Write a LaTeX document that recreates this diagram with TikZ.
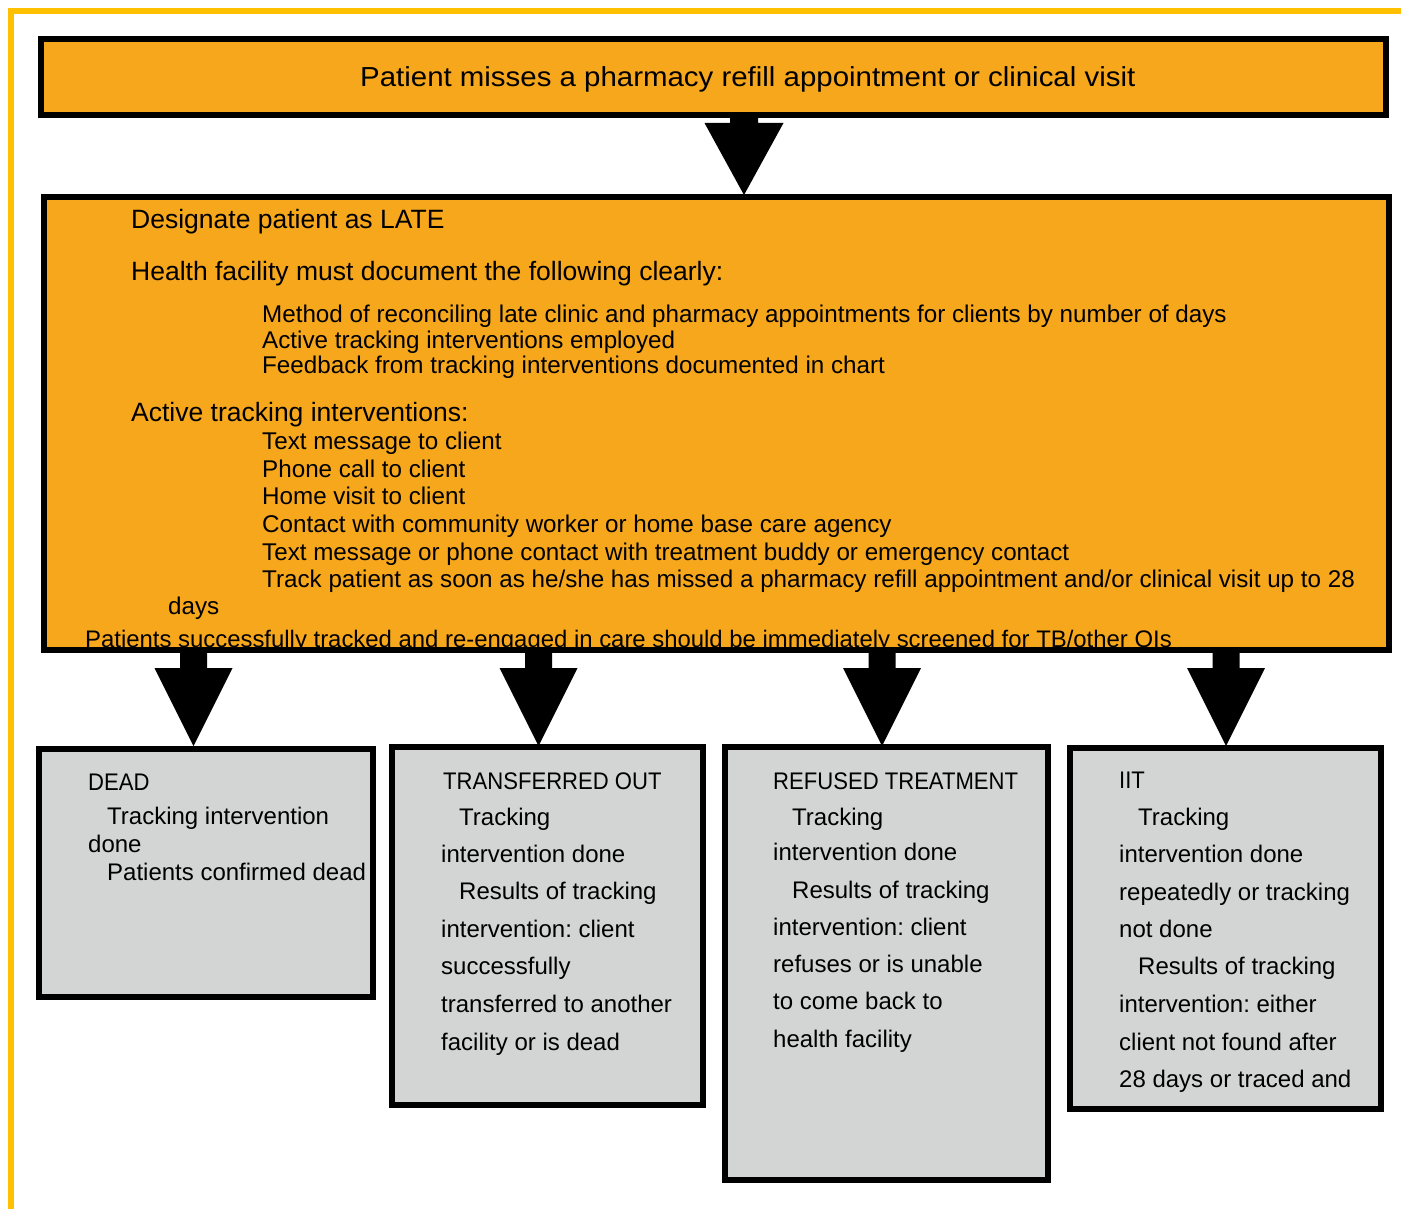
\documentclass[tikz,border=0pt]{standalone}
\usepackage{fontspec}
\setmainfont{Liberation Sans}
\newfontfamily\capsfont[FakeStretch=0.92]{Liberation Sans}
\newfontfamily\titlefont[FakeStretch=1.07]{Liberation Sans}
\frenchspacing
\definecolor{frameyellow}{HTML}{FFC000}
\definecolor{boxorange}{HTML}{F6A71C}
\definecolor{boxgray}{HTML}{D3D4D4}
\tikzset{
  obox/.style={fill=boxorange},
  gbox/.style={fill=boxgray},
  edge/.style={draw=black, line width=6pt},
  big/.style={anchor=base west, inner sep=0pt, font=\fontsize{26.5}{30}\selectfont},
  sub/.style={anchor=base west, inner sep=0pt, font=\fontsize{24.2}{28}\selectfont},
  small/.style={anchor=base west, inner sep=0pt, font=\fontsize{24}{28}\selectfont},
  caps/.style={anchor=base west, inner sep=0pt, font=\capsfont\fontsize{24}{28}\selectfont},
  blockarrow/.style={fill=black}
}
\begin{document}
\begin{tikzpicture}[x=1pt,y=-1pt]
\useasboundingbox (0,0) rectangle (1401,1209);
\fill[white] (0,0) rectangle (1401,1209);
% yellow frame
\draw[frameyellow, line width=6pt] (11,1209) -- (11,11) -- (1401,11);

% top box
\node[obox, minimum width=1345pt, minimum height=75.5pt, inner sep=0pt, anchor=north west] (top) at (41,39.5) {};
\node[anchor=base west, inner sep=0pt, font=\titlefont\fontsize{27.5}{30}\selectfont] (title) at (360,87) {Patient misses a pharmacy refill appointment or clinical visit};
\draw[edge] (top.north west) rectangle (top.south east);

% main box
\node[obox, minimum width=1344.5pt, minimum height=453pt, inner sep=0pt, anchor=north west] (main) at (44,197) {};
\node[big] (t1) at (131,229) {Designate patient as LATE};
\node[big] (t2) at (131,280) {Health facility must document the following clearly:};
\node[sub] (t3) at (262,323) {Method of reconciling late clinic and pharmacy appointments for clients by number of days};
\node[sub] (t4) at (262,348) {Active tracking interventions employed};
\node[sub] (t5) at (262,373) {Feedback from tracking interventions documented in chart};
\node[big] (t6) at (131,421) {Active tracking interventions:};
\node[sub] (t7) at (262,449) {Text message to client};
\node[sub] (t8) at (262,477) {Phone call to client};
\node[sub] (t9) at (262,504) {Home visit to client};
\node[sub] (t10) at (262,532) {Contact with community worker or home base care agency};
\node[sub] (t11) at (262,560) {Text message or phone contact with treatment buddy or emergency contact};
\node[sub] (t12) at (262,587) {Track patient as soon as he/she has missed a pharmacy refill appointment and/or clinical visit up to 28};
\node[sub] (t13) at (168,614) {days};
\node[anchor=base west, inner sep=0pt, font=\fontsize{23.9}{28}\selectfont] (t14) at (85,647) {Patients successfully tracked and re-engaged in care should be immediately screened for TB/other OIs};
\draw[edge] (main.north west) rectangle (main.south east);

% bottom boxes
\node[gbox, minimum width=334pt, minimum height=248pt, inner sep=0pt, anchor=north west] (dead) at (39,749) {};
\node[gbox, minimum width=311pt, minimum height=358pt, inner sep=0pt, anchor=north west] (trans) at (392,747) {};
\node[gbox, minimum width=322.5pt, minimum height=433pt, inner sep=0pt, anchor=north west] (ref) at (725,747) {};
\node[gbox, minimum width=311pt, minimum height=361pt, inner sep=0pt, anchor=north west] (iit) at (1070,748) {};
\foreach \b in {dead,trans,ref,iit} {\draw[edge] (\b.north west) rectangle (\b.south east);}

% DEAD text
\node[caps] (d1) at (88,790) {DEAD};
\node[small] (d2) at (107,824) {Tracking intervention};
\node[small] (d3) at (88,852) {done};
\node[small] (d4) at (107,880) {Patients confirmed dead};

% TRANSFERRED text
\node[caps] (r1) at (443,789) {TRANSFERRED OUT};
\node[small] (r2) at (459,825) {Tracking};
\node[small] (r3) at (441,862) {intervention done};
\node[small] (r4) at (459,899) {Results of tracking};
\node[small] (r5) at (441,937) {intervention: client};
\node[small] (r6) at (441,974) {successfully};
\node[small] (r7) at (441,1012) {transferred to another};
\node[small] (r8) at (441,1050) {facility or is dead};

% REFUSED text
\node[caps] (f1) at (773,789) {REFUSED TREATMENT};
\node[small] (f2) at (792,825) {Tracking};
\node[small] (f3) at (773,860) {intervention done};
\node[small] (f4) at (792,898) {Results of tracking};
\node[small] (f5) at (773,935) {intervention: client};
\node[small] (f6) at (773,972) {refuses or is unable};
\node[small] (f7) at (773,1009) {to come back to};
\node[small] (f8) at (773,1047) {health facility};

% IIT text
\node[caps] (i1) at (1119,788) {IIT};
\node[small] (i2) at (1138,825) {Tracking};
\node[small] (i3) at (1119,862) {intervention done};
\node[small] (i4) at (1119,900) {repeatedly or tracking};
\node[small] (i5) at (1119,937) {not done};
\node[small] (i6) at (1138,974) {Results of tracking};
\node[small] (i7) at (1119,1012) {intervention: either};
\node[small] (i8) at (1119,1050) {client not found after};
\node[small] (i9) at (1119,1087) {28 days or traced and};

% block arrows
\coordinate (a0) at (744,118);
\fill[blockarrow] (a0) ++(-14,0) -- ++(28,0) -- ++(0,5) -- ++(25.5,0) -- (744,195) -- (704.5,123) -- (730,123) -- cycle;
\foreach \c/\t in {193.5/dead,538.5/trans,882/ref,1226/iit} {
  \fill[blockarrow] (\c-13.5,653) -- (\c+13.5,653) -- (\c+13.5,668) -- (\c+39,668) -- (\c,746) -- (\c-39,668) -- (\c-13.5,668) -- cycle;
}
\end{tikzpicture}
\end{document}
